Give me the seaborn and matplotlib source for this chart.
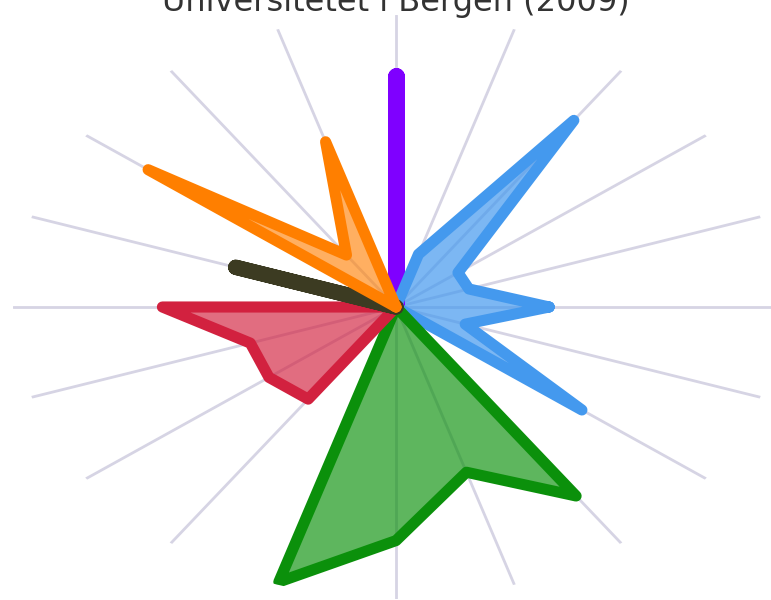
import numpy as np
import matplotlib
matplotlib.use("Agg")
import matplotlib.pyplot as plt
import seaborn as sns

# 20 spokes, 18 degrees apart, counted anticlockwise from east
spoke_deg = np.arange(0, 360, 18)

# radius on every spoke (0 = centre, 1 = rim)
blue   = [0.40, 0.20, 0.20, 0.79, 0.19, 0, 0, 0, 0, 0, 0, 0, 0, 0, 0, 0, 0, 0, 0.60, 0.19]
purple = [0, 0, 0, 0, 0, 0.79, 0, 0, 0, 0, 0, 0, 0, 0, 0, 0, 0, 0, 0, 0]
orange = [0, 0, 0, 0, 0, 0, 0.595, 0.22, 0.80, 0, 0, 0, 0, 0, 0, 0, 0, 0, 0, 0]
olive  = [0, 0, 0, 0, 0, 0, 0, 0, 0, 0.44, 0, 0, 0, 0, 0, 0, 0, 0, 0, 0]
red    = [0, 0, 0, 0, 0, 0, 0, 0, 0, 0, 0.61, 0.40, 0.41, 0.39, 0, 0, 0, 0, 0, 0]
green  = [0, 0, 0, 0, 0, 0, 0, 0, 0, 0, 0, 0, 0, 0, 0.99, 0.80, 0.595, 0.80, 0, 0]

title = "Universitetet i Bergen (2009)"

sns.set_style("white")
plt.rcParams['font.family'] = ['DejaVu Sans']

fig = plt.figure(figsize=(7.71, 6.0), dpi=100)
W, H = 771, 600
cx, cy, rx, ry = 396, 307, 383, 292
ax = fig.add_axes([(cx - rx) / W, (H - cy - ry) / H, 2 * rx / W, 2 * ry / H],
                  projection='polar')
ax.set_aspect('auto')
ax.set_facecolor('none')

theta = np.deg2rad(np.append(spoke_deg, 360))


def closed(vals):
    return np.append(vals, vals[0])


series = [
    (purple, '#7f00ff', 12, 0.0),
    (blue, '#4499ee', 8, 0.7),
    (green, '#0b900b', 8, 0.66),
    (red, '#d2213f', 8, 0.66),
    (olive, '#3c3b22', 11, 0.0),
    (orange, '#ff7f00', 8, 0.62),
]

for vals, col, lw, alpha in series:
    r = closed(vals)
    if alpha > 0:
        ax.fill(theta, r, color=col, alpha=alpha, lw=0, zorder=2)
    sns.lineplot(x=theta, y=r, ax=ax, sort=False, estimator=None, color=col,
                 lw=lw, solid_joinstyle='round', solid_capstyle='round', zorder=3)

ax.set_ylim(0, 1)
ax.set_yticks([])
ax.set_xticks(np.deg2rad(spoke_deg))
ax.set_xticklabels([])
ax.xaxis.grid(True, color='#d6d4e4', lw=2)
ax.set_axisbelow(True)
ax.spines['polar'].set_visible(False)
ax.set_xlabel('')
ax.set_ylabel('')

fig.text(0.513, 1 - 11 / H, title, ha='center', va='baseline',
         fontsize=23, color='#333333')

fig.savefig('out.png', dpi=100)
